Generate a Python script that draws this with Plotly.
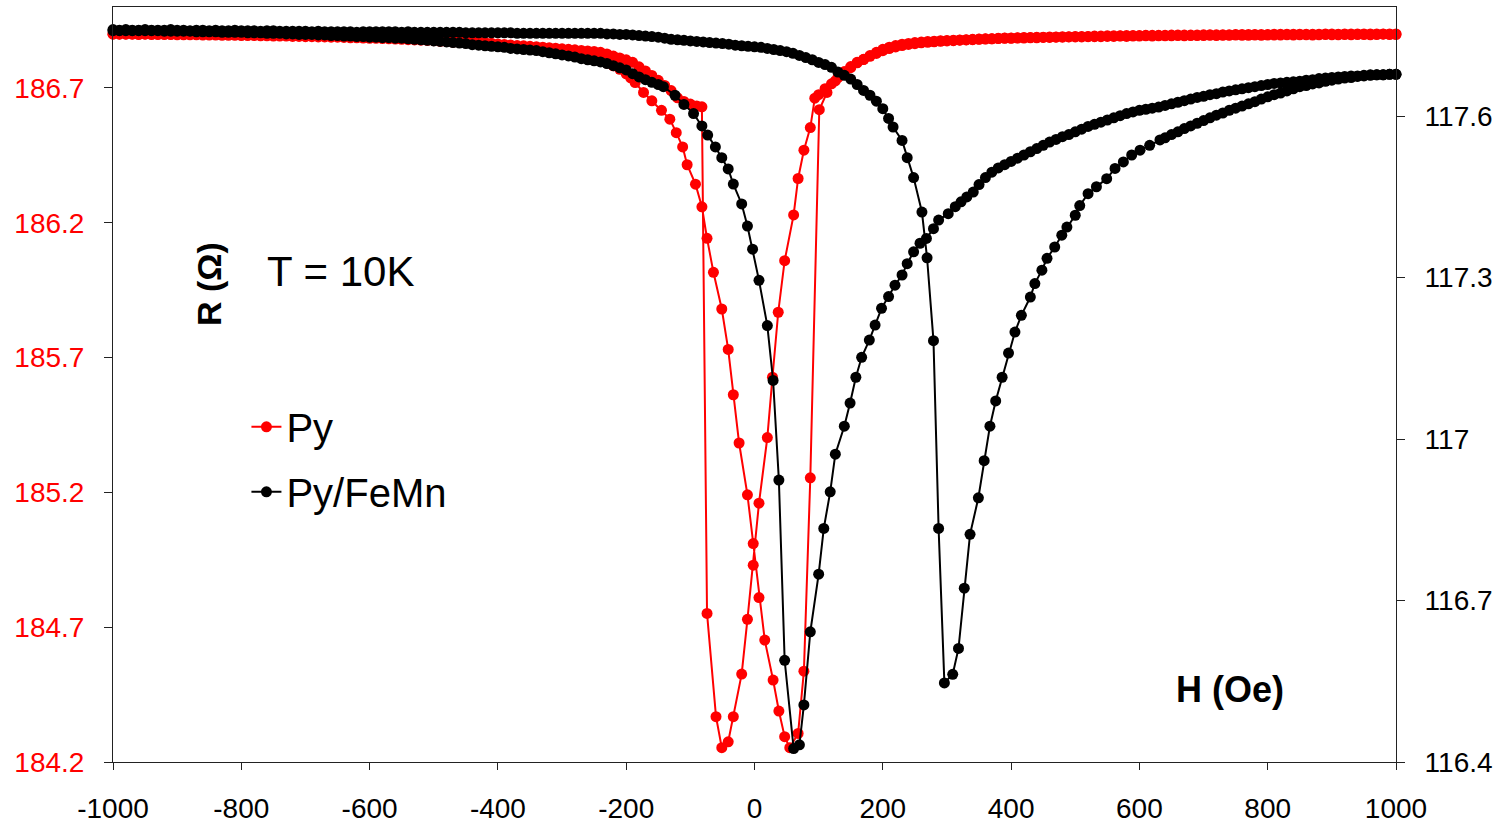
import plotly.graph_objects as go

# ---------------- Py (left axis, Ohm) ----------------
# branch swept from +1000 Oe down to -1000 Oe
py_down_H = [
    1000, 990, 980, 970, 960, 950, 940, 930, 920, 910,
    900, 890, 880, 870, 860, 850, 840, 830, 820, 810,
    800, 790, 780, 770, 760, 750, 740, 730, 720, 710,
    700, 690, 680, 670, 660, 650, 640, 630, 620, 610,
    600, 590, 580, 570, 560, 550, 540, 530, 520, 510,
    500, 490, 480, 470, 460, 450, 440, 430, 420, 410,
    400, 390, 380, 370, 360, 350, 340, 330, 320, 310,
    300, 290, 280, 270, 260, 250, 240, 230, 220, 210,
    200, 190, 180, 170, 160, 150, 140, 130, 120, 110,
    100,
    94, 87, 77, 68, 61, 47, 37, 28, 20, 7,
    -2, -11, -20, -33, -41, -51, -60, -74, -82,
    -90, -100, -110, -120, -130, -140, -150, -160, -170, -180,
    -190, -200, -210, -220, -230, -240, -250, -260, -270, -280,
    -290, -300, -310, -320, -330, -340, -350, -360, -370, -380,
    -390, -400, -410, -420, -430, -440, -450, -460, -470, -480,
    -490, -500, -510, -520, -530, -540, -550, -560, -570, -580,
    -590, -600, -610, -620, -630, -640, -650, -660, -670, -680,
    -690, -700, -710, -720, -730, -740, -750, -760, -770, -780,
    -790, -800, -810, -820, -830, -840, -850, -860, -870, -880,
    -890, -900, -910, -920, -930, -940, -950, -960, -970, -980,
    -990, -1000,
]
py_down_R = [
    186.898, 186.898, 186.899, 186.898, 186.897, 186.898, 186.898, 186.897, 186.898, 186.897,
    186.897, 186.898, 186.897, 186.896, 186.897, 186.897, 186.896, 186.897, 186.896, 186.896,
    186.896, 186.895, 186.896, 186.895, 186.895, 186.896, 186.895, 186.895, 186.894, 186.895,
    186.894, 186.894, 186.894, 186.893, 186.894, 186.893, 186.893, 186.893, 186.892, 186.893,
    186.892, 186.892, 186.891, 186.892, 186.891, 186.891, 186.890, 186.890, 186.890, 186.889,
    186.889, 186.889, 186.888, 186.888, 186.887, 186.887, 186.886, 186.886, 186.885, 186.885,
    186.884, 186.884, 186.883, 186.882, 186.882, 186.881, 186.880, 186.879, 186.878, 186.877,
    186.876, 186.875, 186.873, 186.872, 186.870, 186.868, 186.865, 186.862, 186.857, 186.851,
    186.843, 186.832, 186.820, 186.806, 186.795, 186.779, 186.760, 186.738, 186.715, 186.697,
    186.675,
    186.662, 186.553, 186.469, 186.364, 186.229, 186.059, 185.868, 185.627, 185.403, 185.160,
    184.930, 184.729, 184.526, 184.368, 184.275, 184.253, 184.368, 184.751, 186.630,
    186.633, 186.640, 186.650, 186.663, 186.690, 186.709, 186.728, 186.746, 186.763, 186.778,
    186.795, 186.804, 186.811, 186.818, 186.826, 186.832, 186.835, 186.837, 186.839, 186.841,
    186.843, 186.845, 186.847, 186.849, 186.851, 186.853, 186.854, 186.856, 186.857, 186.859,
    186.861, 186.863, 186.866, 186.869, 186.872, 186.875, 186.877, 186.879, 186.880, 186.881,
    186.882, 186.883, 186.884, 186.885, 186.886, 186.887, 186.888, 186.888, 186.889, 186.889,
    186.890, 186.890, 186.891, 186.891, 186.892, 186.892, 186.893, 186.893, 186.893, 186.894,
    186.894, 186.894, 186.895, 186.895, 186.895, 186.896, 186.896, 186.896, 186.897, 186.897,
    186.897, 186.897, 186.898, 186.898, 186.898, 186.898, 186.898, 186.899, 186.899, 186.899,
    186.899, 186.899, 186.899, 186.900, 186.900, 186.900, 186.900, 186.900, 186.900, 186.900,
    186.900, 186.900,
]

# branch swept from -1000 Oe up to +1000 Oe
py_up_H = [
    -1000, -990, -980, -970, -960, -950, -940, -930, -920, -910,
    -900, -890, -880, -870, -860, -850, -840, -830, -820, -810,
    -800, -790, -780, -770, -760, -750, -740, -730, -720, -710,
    -700, -690, -680, -670, -660, -650, -640, -630, -620, -610,
    -600, -590, -580, -570, -560, -550, -540, -530, -520, -510,
    -500, -490, -480, -470, -460, -450, -440, -430, -420, -410,
    -400, -390, -380, -370, -360, -350, -340, -330, -320, -310,
    -300, -290, -280, -270, -260, -250, -240, -230, -220, -210,
    -200,
    -193, -186, -173, -160, -145, -132, -122, -112, -105, -92,
    -82, -74, -64, -51, -41, -33, -24, -11, -2, 7,
    16, 29, 38, 47, 55, 68, 77, 87, 101, 113,
    126,
    140, 150, 160, 170, 180, 190, 200, 210, 220, 230,
    240, 250, 260, 270, 280, 290, 300, 310, 320, 330,
    340, 350, 360, 370, 380, 390, 400, 410, 420, 430,
    440, 450, 460, 470, 480, 490, 500, 510, 520, 530,
    540, 550, 560, 570, 580, 590, 600, 610, 620, 630,
    640, 650, 660, 670, 680, 690, 700, 710, 720, 730,
    740, 750, 760, 770, 780, 790, 800, 810, 820, 830,
    840, 850, 860, 870, 880, 890, 900, 910, 920, 930,
    940, 950, 960, 970, 980, 990, 1000,
]
py_up_R = [
    186.899, 186.899, 186.899, 186.899, 186.898, 186.899, 186.898, 186.898, 186.898, 186.898,
    186.897, 186.897, 186.897, 186.897, 186.896, 186.896, 186.896, 186.895, 186.895, 186.895,
    186.894, 186.894, 186.894, 186.893, 186.893, 186.892, 186.892, 186.892, 186.891, 186.891,
    186.890, 186.890, 186.889, 186.889, 186.888, 186.888, 186.887, 186.886, 186.886, 186.885,
    186.884, 186.884, 186.883, 186.882, 186.881, 186.880, 186.879, 186.878, 186.877, 186.876,
    186.875, 186.873, 186.872, 186.870, 186.869, 186.867, 186.866, 186.864, 186.862, 186.861,
    186.859, 186.857, 186.855, 186.852, 186.850, 186.847, 186.844, 186.841, 186.838, 186.834,
    186.830, 186.826, 186.822, 186.817, 186.812, 186.806, 186.800, 186.792, 186.782, 186.769,
    186.752,
    186.737, 186.720, 186.683, 186.652, 186.617, 186.584, 186.534, 186.481, 186.415, 186.343,
    186.259, 186.142, 186.016, 185.880, 185.730, 185.562, 185.383, 185.191, 185.010, 184.810,
    184.652, 184.504, 184.389, 184.294, 184.253, 184.306, 184.537, 185.254, 186.619, 186.683,
    186.726,
    186.760, 186.775, 186.793, 186.805, 186.817, 186.828, 186.838, 186.846, 186.852, 186.857,
    186.861, 186.864, 186.867, 186.869, 186.871, 186.873, 186.874, 186.875, 186.877, 186.878,
    186.879, 186.880, 186.881, 186.882, 186.884, 186.885, 186.885, 186.886, 186.887, 186.887,
    186.888, 186.888, 186.889, 186.889, 186.890, 186.890, 186.891, 186.891, 186.891, 186.892,
    186.892, 186.893, 186.893, 186.893, 186.894, 186.894, 186.894, 186.895, 186.895, 186.895,
    186.895, 186.896, 186.896, 186.896, 186.896, 186.896, 186.897, 186.897, 186.897, 186.897,
    186.897, 186.898, 186.898, 186.898, 186.898, 186.898, 186.898, 186.899, 186.899, 186.899,
    186.899, 186.899, 186.899, 186.899, 186.899, 186.900, 186.900, 186.899, 186.900, 186.900,
    186.900, 186.900, 186.900, 186.900, 186.900, 186.900, 186.900,
]

# ---------------- Py/FeMn (right axis, Ohm) ----------------
# branch swept from +1000 Oe down to -1000 Oe
fm_down_H = [
    1000, 990, 980, 970, 960, 950, 940, 930, 920, 910,
    900, 890, 880, 870, 860, 850, 840, 830, 820, 810,
    800, 790, 780, 770, 760, 750, 740, 730, 720, 710,
    700, 690, 680, 670, 660, 650, 640, 630, 620, 610,
    600, 590, 580, 570, 560, 550, 540, 530, 520, 510,
    500, 490, 480, 470, 460, 450, 440, 430, 420, 410,
    400, 390, 380, 370, 360, 350,
    341, 331, 322, 313, 302, 287, 279, 268, 258, 248,
    238, 230, 219, 209, 198, 188, 179, 167, 158, 149,
    140, 126, 118, 108, 100, 87, 77, 70, 61, 47,
    38, 29, 20, 7, -3, -11, -20, -33, -41, -51,
    -61, -73, -82, -95, -110, -124, -142,
    -150, -160, -170, -180, -190, -200, -210, -220, -230, -240,
    -250, -260, -270, -280, -290, -300, -310, -320, -330, -340,
    -350, -360, -370, -380, -390, -400, -410, -420, -430, -440,
    -450, -460, -470, -480, -490, -500, -510, -520, -530, -540,
    -550, -560, -570, -580, -590, -600, -610, -620, -630, -640,
    -650, -660, -670, -680, -690, -700, -710, -720, -730, -740,
    -750, -760, -770, -780, -790, -800, -810, -820, -830, -840,
    -850, -860, -870, -880, -890, -900, -910, -920, -930, -940,
    -950, -960, -970, -980, -990, -1000,
]
fm_down_R = [
    117.678, 117.678, 117.677, 117.677, 117.677, 117.676, 117.675, 117.675, 117.674, 117.673,
    117.672, 117.671, 117.670, 117.668, 117.667, 117.665, 117.664, 117.663, 117.662, 117.661,
    117.659, 117.657, 117.655, 117.653, 117.651, 117.649, 117.647, 117.645, 117.642, 117.640,
    117.637, 117.635, 117.632, 117.629, 117.626, 117.623, 117.620, 117.617, 117.615, 117.613,
    117.611, 117.608, 117.605, 117.601, 117.597, 117.593, 117.589, 117.585, 117.581, 117.576,
    117.571, 117.566, 117.562, 117.557, 117.552, 117.546, 117.540, 117.534, 117.528, 117.522,
    117.516, 117.510, 117.504, 117.496, 117.486, 117.473,
    117.459, 117.450, 117.441, 117.432, 117.419, 117.407, 117.391, 117.373, 117.364, 117.348,
    117.326, 117.305, 117.286, 117.265, 117.243, 117.212, 117.184, 117.152, 117.115, 117.067,
    117.024, 116.972, 116.902, 116.834, 116.749, 116.642, 116.506, 116.432, 116.425, 116.589,
    116.924, 117.109, 117.211, 117.295, 117.353, 117.396, 117.437, 117.474, 117.502, 117.523,
    117.543, 117.565, 117.582, 117.605, 117.622, 117.639, 117.655,
    117.659, 117.663, 117.668, 117.673, 117.679, 117.686, 117.690, 117.694, 117.698, 117.701,
    117.703, 117.705, 117.707, 117.710, 117.712, 117.714, 117.716, 117.718, 117.720, 117.722,
    117.723, 117.724, 117.725, 117.726, 117.728, 117.729, 117.730, 117.731, 117.732, 117.733,
    117.735, 117.736, 117.737, 117.738, 117.739, 117.740, 117.741, 117.742, 117.743, 117.744,
    117.745, 117.745, 117.746, 117.746, 117.747, 117.747, 117.748, 117.748, 117.749, 117.749,
    117.750, 117.750, 117.751, 117.751, 117.752, 117.752, 117.752, 117.753, 117.753, 117.754,
    117.754, 117.754, 117.755, 117.755, 117.755, 117.756, 117.756, 117.756, 117.756, 117.757,
    117.757, 117.757, 117.757, 117.758, 117.758, 117.758, 117.758, 117.758, 117.759, 117.759,
    117.759, 117.759, 117.759, 117.759, 117.759, 117.759,
]

# branch swept from -1000 Oe up to +1000 Oe
fm_up_H = [
    -1000, -990, -980, -970, -960, -950, -940, -930, -920, -910,
    -900, -890, -880, -870, -860, -850, -840, -830, -820, -810,
    -800, -790, -780, -770, -760, -750, -740, -730, -720, -710,
    -700, -690, -680, -670, -660, -650, -640, -630, -620, -610,
    -600, -590, -580, -570, -560, -550, -540, -530, -520, -510,
    -500, -490, -480, -470, -460, -450, -440, -430, -420, -410,
    -400, -390, -380, -370, -360, -350, -340, -330, -320, -310,
    -300, -290, -280, -270, -260, -250, -240, -230, -220, -210,
    -200, -190, -180, -170, -160, -150, -140, -130, -120, -110,
    -100, -90, -80, -70, -60, -50, -40, -30, -20, -10,
    0, 10, 20, 30, 40, 50, 60, 70, 80, 90,
    100, 110, 120,
    130, 140, 150, 160, 170, 180, 190, 200, 209, 216,
    230, 238, 248, 261, 269, 279, 287, 296, 309, 318,
    327, 336, 349, 358, 367, 376, 386, 396, 406, 416,
    430, 437, 448, 456, 468, 479, 487, 500, 507, 520,
    533, 549, 562, 575, 588, 601, 616, 632,
    640, 650, 660, 670, 680, 690, 700, 710, 720, 730,
    740, 750, 760, 770, 780, 790, 800, 810, 820, 830,
    840, 850, 860, 870, 880, 890, 900, 910, 920, 930,
    940, 950, 960, 970, 980, 990, 1000,
]
fm_up_R = [
    117.761, 117.760, 117.761, 117.760, 117.760, 117.761, 117.760, 117.760, 117.760, 117.761,
    117.760, 117.760, 117.759, 117.760, 117.760, 117.759, 117.760, 117.759, 117.759, 117.760,
    117.759, 117.759, 117.759, 117.758, 117.759, 117.759, 117.758, 117.758, 117.758, 117.758,
    117.758, 117.757, 117.758, 117.757, 117.757, 117.757, 117.757, 117.757, 117.756, 117.757,
    117.757, 117.757, 117.757, 117.757, 117.757, 117.756, 117.757, 117.756, 117.756, 117.756,
    117.756, 117.756, 117.756, 117.756, 117.756, 117.755, 117.755, 117.755, 117.755, 117.755,
    117.755, 117.755, 117.755, 117.754, 117.754, 117.754, 117.754, 117.754, 117.754, 117.754,
    117.754, 117.754, 117.754, 117.754, 117.754, 117.754, 117.754, 117.753, 117.753, 117.752,
    117.752, 117.751, 117.750, 117.749, 117.748, 117.747, 117.745, 117.743, 117.742, 117.741,
    117.740, 117.739, 117.738, 117.737, 117.736, 117.735, 117.734, 117.732, 117.731, 117.730,
    117.729, 117.728, 117.726, 117.724, 117.722, 117.720, 117.717, 117.713, 117.709, 117.705,
    117.700, 117.696, 117.691,
    117.682, 117.676, 117.669, 117.659, 117.648, 117.639, 117.628, 117.614, 117.596, 117.580,
    117.555, 117.523, 117.486, 117.422, 117.337, 117.183, 116.834, 116.547, 116.563, 116.611,
    116.723, 116.823, 116.891, 116.960, 117.024, 117.071, 117.115, 117.160, 117.199, 117.230,
    117.264, 117.289, 117.314, 117.336, 117.357, 117.379, 117.394, 117.416, 117.434, 117.456,
    117.469, 117.484, 117.503, 117.515, 117.528, 117.537, 117.546, 117.556,
    117.560, 117.566, 117.571, 117.577, 117.582, 117.587, 117.592, 117.597, 117.602, 117.606,
    117.611, 117.615, 117.619, 117.623, 117.627, 117.632, 117.636, 117.640, 117.643, 117.647,
    117.651, 117.655, 117.657, 117.660, 117.662, 117.665, 117.667, 117.669, 117.671, 117.672,
    117.674, 117.675, 117.676, 117.677, 117.677, 117.678, 117.678,
]

# ---------------- axes ----------------
x_ticks = [-1000, -800, -600, -400, -200, 0, 200, 400, 600, 800, 1000]
x_tick_text = ["-1000", "-800", "-600", "-400", "-200", "0", "200", "400", "600", "800", "1000"]
left_ticks = [184.2, 184.7, 185.2, 185.7, 186.2, 186.7]
left_tick_text = ["184.2", "184.7", "185.2", "185.7", "186.2", "186.7"]
right_ticks = [116.4, 116.7, 117.0, 117.3, 117.6]
right_tick_text = ["116.4", "116.7", "117", "117.3", "117.6"]

for h, r in ((py_down_H, py_down_R), (py_up_H, py_up_R), (fm_down_H, fm_down_R), (fm_up_H, fm_up_R)):
    assert len(h) == len(r), (len(h), len(r))

FONT = "Liberation Sans, Arial, Helvetica, sans-serif"
RED = "#FF0000"
BLACK = "#000000"

fig = go.Figure()
fig.add_trace(go.Scatter(
    x=py_down_H + py_up_H, y=py_down_R + py_up_R,
    name="Py", mode="lines+markers", yaxis="y",
    line=dict(color=RED, width=2), marker=dict(color=RED, size=11),
    cliponaxis=False, legendgroup="a",
))
fig.add_trace(go.Scatter(
    x=fm_down_H + fm_up_H, y=fm_down_R + fm_up_R,
    name="Py/FeMn", mode="lines+markers", yaxis="y2",
    line=dict(color=BLACK, width=2), marker=dict(color=BLACK, size=11),
    cliponaxis=False, legendgroup="b",
))

fig.update_layout(
    width=1505, height=824,
    margin=dict(l=113, r=109, t=7, b=62, autoexpand=False),
    paper_bgcolor="white", plot_bgcolor="white",
    font=dict(family=FONT, color="black"),
    showlegend=True,
    legend=dict(
        x=0.104, y=0.487, xanchor="left", yanchor="top",
        font=dict(size=40, family=FONT, color="black"),
        bgcolor="rgba(0,0,0,0)", borderwidth=0,
        tracegroupgap=10, itemsizing="trace",
    ),
    xaxis=dict(
        range=[-1000, 1000], tickvals=x_ticks, ticktext=x_tick_text,
        ticks="outside", ticklen=7, tickcolor="#222", tickwidth=1,
        showline=True, linecolor="#222", linewidth=1, mirror=True,
        showgrid=False, zeroline=False, automargin=False,
        tickfont=dict(size=28, color="black", family=FONT),
        ticklabelstandoff=14,
    ),
    yaxis=dict(
        range=[184.2, 187.0], tickvals=left_ticks, ticktext=left_tick_text,
        ticks="outside", ticklen=8, tickcolor="#222", tickwidth=1,
        showline=True, linecolor="#222", linewidth=1,
        showgrid=False, zeroline=False, automargin=False,
        tickfont=dict(size=28, color=RED, family=FONT),
        ticklabelstandoff=14,
    ),
    yaxis2=dict(
        range=[116.4, 117.803], tickvals=right_ticks, ticktext=right_tick_text,
        overlaying="y", side="right", anchor="x",
        ticks="outside", ticklen=8, tickcolor="#222", tickwidth=1,
        showline=True, linecolor="#222", linewidth=1,
        showgrid=False, zeroline=False, automargin=False,
        tickfont=dict(size=28, color="black", family=FONT),
        ticklabelstandoff=14,
    ),
    yaxis3=dict(
        range=[116.4, 117.803], tickvals=right_ticks,
        overlaying="y", side="right", anchor="x",
        ticks="inside", ticklen=8, tickcolor="#222", tickwidth=1,
        showline=False, showgrid=False, zeroline=False, automargin=False,
        showticklabels=False,
    ),
    annotations=[
        dict(text="<b>R (Ω)</b>", x=0.0748, y=0.633, xref="paper", yref="paper",
             textangle=-90, showarrow=False, font=dict(size=34, family=FONT, color="black"),
             xanchor="center", yanchor="middle"),
        dict(text="T = 10K", x=0.1185, y=0.650, xref="paper", yref="paper",
             showarrow=False, font=dict(size=42, family=FONT, color="black"),
             xanchor="left", yanchor="middle"),
        dict(text="<b>H (Oe)</b>", x=0.8706, y=0.0954, xref="paper", yref="paper",
             showarrow=False, font=dict(size=36, family=FONT, color="black"),
             xanchor="center", yanchor="middle"),
    ],
)

fig.write_html("out.html")
